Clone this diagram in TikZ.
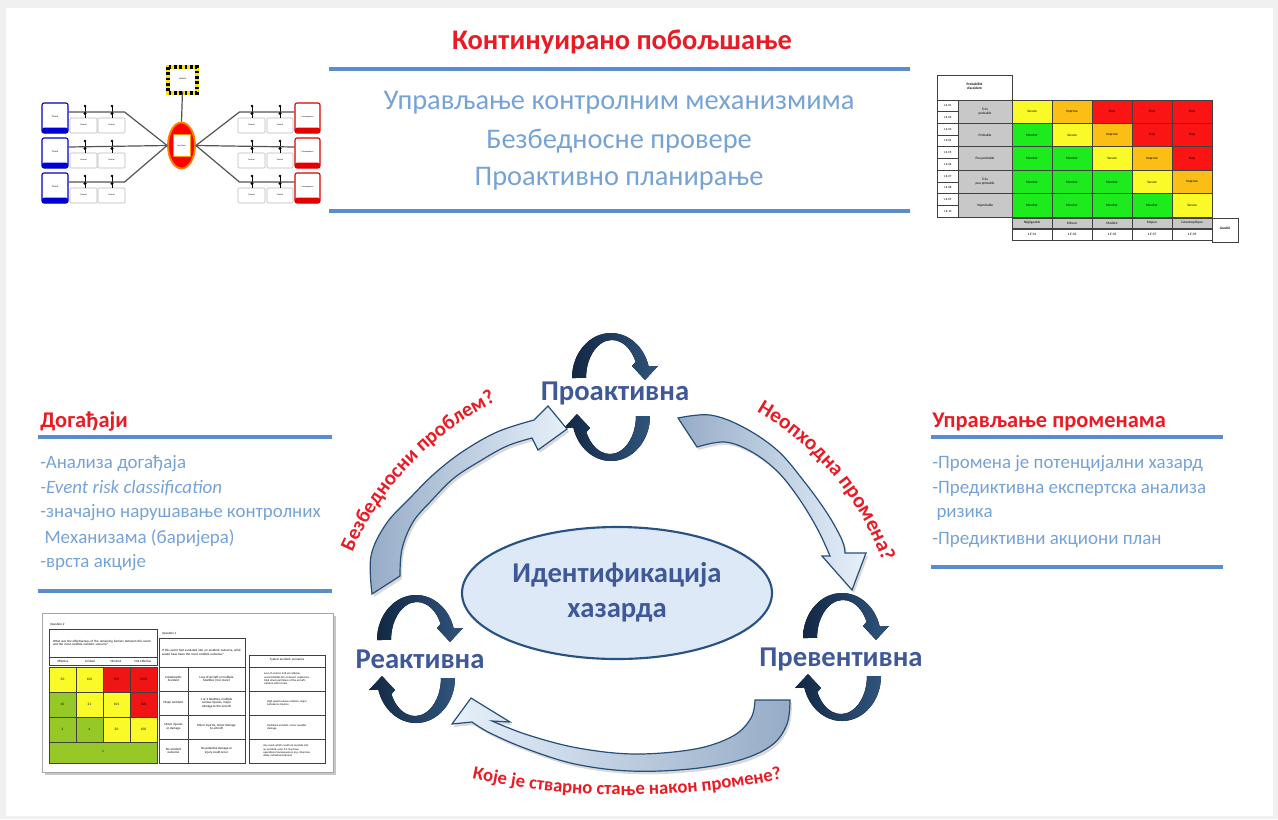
\documentclass[tikz,border=0pt]{standalone}
\usepackage{fontspec}
\setmainfont{Carlito}
\usetikzlibrary{shapes.geometric,decorations.text,fit}
\definecolor{titlered}{RGB}{232,28,36}
\definecolor{lblue}{RGB}{118,163,214}
\definecolor{rule}{RGB}{88,142,204}
\definecolor{lab}{RGB}{62,88,152}
\definecolor{navy}{RGB}{18,40,68}
\definecolor{navyB}{RGB}{48,84,124}
\definecolor{arrline}{RGB}{38,78,122}
\definecolor{arrlight}{RGB}{230,240,250}
\definecolor{arrdark}{RGB}{150,172,198}
\definecolor{ellfill}{RGB}{221,233,246}
\definecolor{ellline}{RGB}{40,82,132}
\definecolor{mR}{RGB}{250,20,20}
\definecolor{mO}{RGB}{250,190,20}
\definecolor{mY}{RGB}{250,250,40}
\definecolor{mG}{RGB}{30,235,30}
\definecolor{eG}{RGB}{150,200,40}
\definecolor{eY}{RGB}{250,250,40}
\definecolor{eR}{RGB}{240,20,20}
\definecolor{cgrey}{RGB}{200,200,200}
\newcommand\bigArrowL[1]{\path[#1] plot[smooth,tension=0.6] coordinates {(372,594) (371,556) (386,524) (410,498) (434,474) (462,452) (497,432) (534,420)} -- (548,406) -- (567,429) -- (538,450) -- plot[smooth,tension=0.6] coordinates {(532,438) (507,446) (480,461) (454,478) (432,500) (413,522) (402,549) (400,576)} -- cycle;}
\newcommand\bigArrowR[1]{\path[#1] plot[smooth,tension=0.6] coordinates {(678,418) (710,415) (743,427) (777,450) (803,480) (827,513) (842,540) (845,553)} -- (866,553) -- (852,590) -- (822,556) -- plot[smooth,tension=0.6] coordinates {(830,556) (818,530) (800,500) (778,472) (752,452) (725,442) (697,447)} -- cycle;}
\newcommand\bigArrowB[1]{\path[#1] plot[smooth,tension=0.6] coordinates {(790,700) (787,724) (772,745) (740,760) (690,769) (630,771) (575,764) (527,749) (490,733) (472,722)} -- (452,724) -- (471,698) -- (510,722) -- plot[smooth,tension=0.6] coordinates {(492,721) (528,735) (578,748) (635,754) (695,749) (733,736) (751,718) (755,700)} -- cycle;}
\tikzset{
  halfloop/.pic={\fill[left color=navy,right color=navyB] (-39,-19) arc[start angle=-180,end angle=-15,x radius=39,y radius=45] -- (47,-31) -- (34,-17) -- (21,-31) -- (24.6,-35.1) arc[start angle=-25,end angle=-180,x radius=26,y radius=38] -- cycle;},
  rulel/.style={draw=rule, line width=3pt},
  toptxt/.style={text=lblue, font=\fontsize{21.3}{25}\selectfont},
  headtxt/.style={text=titlered, font=\bfseries\fontsize{16.8}{19}\selectfont, anchor=west, inner sep=0pt},
  bullet/.style={text=lblue, font=\fontsize{14.2}{17}\selectfont, anchor=west, inner sep=0pt},
  cyc/.style={text=lab, font=\bfseries\fontsize{21.5}{25}\selectfont},
  lbl/.style={decorate, decoration={text along path, text align=center, text={#1}}},
  btctl/.style={draw=gray!55, fill=white, rounded corners=0.8pt, line width=0.4pt, inner sep=0pt, font=\fontsize{1.6}{2}\selectfont},
  btthreat/.style={draw=blue!75!black, fill=white, rounded corners=1.5pt, line width=0.8pt, inner sep=0pt, font=\fontsize{1.8}{2}\selectfont,
    path picture={\fill[blue!85!black] ([yshift=4pt]path picture bounding box.south west) rectangle (path picture bounding box.south east);}},
  btcons/.style={draw=red!85!black, fill=white, rounded corners=1.5pt, line width=0.8pt, inner sep=0pt, font=\fontsize{1.6}{2}\selectfont,
    path picture={\fill[red!90!black] ([yshift=4pt]path picture bounding box.south west) rectangle (path picture bounding box.south east);}},
  btline/.style={draw=gray!65!black, line width=0.9pt},
  tiny/.style={font=\fontsize{2.4}{2.8}\selectfont, inner sep=0pt, align=center},
  tbl/.style={draw=black!75, line width=0.5pt},
}
\begin{document}
\begin{tikzpicture}[x=0.75pt,y=-0.75pt]
\useasboundingbox (0,0) rectangle (1278,819);
\fill[gray!12] (0,0) rectangle (1278,819);
\fill[white] (6,8) rectangle (1273,816);

% ---------- title and top text ----------
\node[text=titlered, font=\bfseries\fontsize{21.3}{25}\selectfont] (title) at (622,42) {Континуирано побољшање};
\draw[rulel] (329,69) -- (910,69);
\draw[rulel] (329,211) -- (910,211);
\node[toptxt] (t1) at (619,103) {Управљање контролним механизмима};
\node[toptxt] (t2) at (619,141) {Безбедносне провере};
\node[toptxt] (t3) at (619,179) {Проактивно планирање};

% ---------- bow-tie thumbnail ----------
\draw[yellow!85!orange, line width=2.6pt] (168,67) rectangle (197,93);
\draw[black, line width=2.6pt, dash pattern=on 2pt off 2pt] (168,67) rectangle (197,93);
\node[fill=white, fit={(170,69)(195,91)}, inner sep=0pt, font=\fontsize{1.8}{2}\selectfont] (hzd) {Hazard};
\node[ellipse, fill=red, draw=orange, line width=1.4pt, minimum width=27*0.75pt, minimum height=46*0.75pt, inner sep=0pt] (te) at (181.5,145.5) {};
\node[fill=white, draw=orange!80!yellow, line width=0.6pt, minimum width=17*0.75pt, minimum height=22*0.75pt, inner sep=0pt, font=\fontsize{1.6}{2}\selectfont] (tein) at (181.5,145.5) {Top Event};
\draw[btline] (hzd.south) -- (te.north);
\foreach \r/\dy in {1/0,2/35,3/70}{
  \node[btthreat, fit={(42,{103+\dy})(68,{133+\dy})}] (th\r) {Threat};
  \node[btcons, fit={(295,{103+\dy})(320,{133+\dy})}] (co\r) {Consequence};
  \node[btctl, fit={(70,{118+\dy})(97,{133+\dy})}] (cla\r) {Control};
  \node[btctl, fit={(98,{118+\dy})(125,{133+\dy})}] (clb\r) {Control};
  \node[btctl, fit={(238,{118+\dy})(265,{133+\dy})}] (cra\r) {Control};
  \node[btctl, fit={(267,{118+\dy})(293,{133+\dy})}] (crb\r) {Control};
  \foreach \xx in {85,112,252,280}{
    \draw[black, line width=0.5pt] (\xx,{106+\dy}) -- (\xx,{118+\dy});
    \fill[black] (\xx,{106+\dy}) circle (1.3);
  }
}
\draw[btline] ([yshift=4.5pt]th1.east) -- ++(56,0) -- (te.west);
\draw[btline] ([yshift=4.5pt]th2.east) -- (te.west);
\draw[btline] ([yshift=4.5pt]th3.east) -- ++(56,0) -- (te.west);
\draw[btline] ([yshift=4.5pt]co1.west) -- ++(-55,0) -- (te.east);
\draw[btline] ([yshift=4.5pt]co2.west) -- (te.east);
\draw[btline] ([yshift=4.5pt]co3.west) -- ++(-55,0) -- (te.east);
\foreach \xx in {85,112,252,280}{\foreach \dy in {0,35,70}{\fill[black] (\xx,{113.5+\dy}) circle (1.6);}}

% ---------- risk matrix thumbnail ----------
\node[tbl, fill=white, fit={(937,75)(1012,100)}, inner sep=0pt, tiny, font=\bfseries\fontsize{2.6}{3}\selectfont] (rmh) {Probabilité\\d'accident};
\foreach \i in {0,...,9}{
  \pgfmathtruncatemacro\n{\i+1}
  \node[tbl, fill=white, minimum width=21*0.75pt, minimum height=11.7*0.75pt, inner sep=0pt, font=\fontsize{2.3}{2.6}\selectfont] (rc\i) at (947.5,{105.85+11.7*\i}) {1.E-\ifnum\n<10 0\fi\n};
}
\foreach \r/\t in {0/{Très\\probable},1/{Probable},2/{Peu probable},3/{Très\\peu probable},4/{Improbable}}{
  \node[tbl, fill=cgrey, minimum width=54*0.75pt, minimum height=23.4*0.75pt, inner sep=0pt, tiny, font=\fontsize{2.6}{3}\selectfont] (rl\r) at (985,{111.7+23.4*\r}) {\t};
}
\foreach \r in {0,...,4}{\foreach \c in {0,...,4}{
  \pgfmathtruncatemacro\d{\c-\r}
  \ifnum\d<0 \def\k{mG}\def\t{Monitor}\else\ifnum\d=0 \def\k{mY}\def\t{Secure}\else\ifnum\d=1 \def\k{mO}\def\t{Improve}\else\def\k{mR}\def\t{Stop}\fi\fi\fi
  \node[tbl, fill=\k, minimum width=40*0.75pt, minimum height=23.4*0.75pt, inner sep=0pt, font=\fontsize{2.6}{3}\selectfont] (m\r\c) at ({1032+40*\c},{111.7+23.4*\r}) {\t};
}}
\foreach \c/\t/\v in {0/Négligeable/01,1/Mineur/03,2/Modéré/05,3/Majeur/07,4/Catastrophique/09}{
  \node[tbl, fill=cgrey, minimum width=40*0.75pt, minimum height=10*0.75pt, inner sep=0pt, font=\fontsize{2.6}{3}\selectfont] (gs\c) at ({1032+40*\c},223) {\t};
  \node[tbl, fill=white, minimum width=40*0.75pt, minimum height=11*0.75pt, inner sep=0pt, font=\fontsize{2.6}{3}\selectfont] (gv\c) at ({1032+40*\c},234.5) {1.E-\v};
}
\node[tbl, fill=white, fit={(1212,218)(1238,242)}, inner sep=0pt, font=\bfseries\fontsize{2.6}{3}\selectfont] (grav) {Gravité};

% ---------- left text block ----------
\node[headtxt] (ev) at (40,422) {Догађаји};
\draw[rulel] (38,437) -- (332,437);
\node[bullet] (b1) at (40,464) {-Анализа догађаја};
\node[bullet] (b2) at (40,488) {\itshape -Event risk classification};
\node[bullet] (b3) at (40,513) {-значајно нарушавање контролних};
\node[bullet] (b4) at (40,538) {\ Механизама (баријера)};
\node[bullet] (b5) at (40,563) {-врста акције};
\draw[rulel] (38,591) -- (332,591);

% ---------- right text block ----------
\node[headtxt] (chg) at (932,422) {Управљање променама};
\draw[rulel] (931,437) -- (1223,437);
\node[bullet] (r1) at (932,464) {-Промена је потенцијални хазард};
\node[bullet] (r2) at (932,489) {-Предиктивна експертска анализа};
\node[bullet] (r3) at (932,514) {\ ризика};
\node[bullet] (r4) at (932,540) {-Предиктивни акциони план};
\draw[rulel] (931,567) -- (1223,567);

% ---------- ERC thumbnail ----------
\fill[black!22] (45,616) rectangle (336,775);
\draw[draw=black!35, fill=white] (42,613) rectangle (333,772);
\node[tiny, anchor=west] (q2l) at (50,625) {Question 2};
\node[tbl, fit={(49,629)(157,657)}, inner sep=0pt] (q2) {};
\node[tiny, text width=100*0.75pt, align=left] (q2t) at (q2) {What was the effectiveness of the remaining barriers between this event and the most credible accident scenario?};
\node[tbl, fit={(49,657)(157,665)}, inner sep=0pt] (q2h) {};
\foreach \xx/\t in {63/Effective,90/Limited,116/Minimal,143/Not effective}{\node[tiny] (h\xx) at (\xx,661) {\t};}
\foreach \r/\c/\k/\v in {0/0/eY/50,0/1/eY/102,0/2/eR/502,0/3/eR/2500,1/0/eG/10,1/1/eY/21,1/2/eY/101,1/3/eR/500,2/0/eG/2,2/1/eG/4,2/2/eY/20,2/3/eY/100}{
  \node[tbl, fill=\k, minimum width=27*0.75pt, minimum height=25*0.75pt, inner sep=0pt, font=\fontsize{2.6}{3}\selectfont] (e\r\c) at ({62.5+27*\c},{679.5+25*\r}) {\v};
}
\node[tbl, fill=eG, fit={(49,742)(157,763)}, inner sep=0pt, font=\fontsize{2.6}{3}\selectfont] (e30) {1};
\node[tiny, anchor=west] (q1l) at (162,634) {Question 1};
\node[tbl, fit={(159,638)(245,667)}, inner sep=0pt] (q1) {};
\node[tiny, text width=80*0.75pt, align=left] (q1t) at (q1) {If this event had escalated into an accident outcome, what would have been the most credible outcome?};
\foreach \r/\a/\b in {0/{Catastrophic\\Accident}/{Loss of aircraft or multiple\\fatalities (3 or more)},1/{Major Accident}/{1 or 2 fatalities, multiple\\serious injuries, major\\damage to the aircraft},2/{Minor injuries\\or damage}/{Minor injuries, minor damage\\to aircraft},3/{No accident\\outcome}/{No potential damage or\\injury could occur}}{
  \node[tbl, minimum width=29*0.75pt, minimum height=24*0.75pt, inner sep=0pt, tiny] (oa\r) at (173.5,{679+24*\r}) {\a};
  \node[tbl, minimum width=57*0.75pt, minimum height=24*0.75pt, inner sep=0pt, tiny] (ob\r) at (216.5,{679+24*\r}) {\b};
}
\node[tbl, fit={(249,655)(325,667)}, inner sep=0pt, tiny] (ts) {Typical accident scenarios};
\foreach \r/\t in {0/{Loss of control, mid-air collision,\\uncontrollable fire on board, explosions,\\total structural failure of the aircraft,\\collision with terrain},1/{High speed runway collision, major\\turbulence injuries},2/{Pushback accident, minor weather\\damage},3/{Any event which could not escalate into\\an accident, even if it may have\\operational consequences (e.g. diversion,\\delay, individual sickness)}}{
  \node[tbl, minimum width=76*0.75pt, minimum height=24*0.75pt, inner sep=0pt, font=\fontsize{2.1}{2.5}\selectfont, align=left] (ts\r) at (287,{679+24*\r}) {\t};
}

% ---------- central cycle ----------
\node[ellipse, draw=ellline, line width=1.6pt, fill=ellfill, minimum width=310*0.75pt, minimum height=132*0.75pt] (hz) at (617,593) {};
\node[cyc] (hz1) at (617,575) {Идентификација};
\node[cyc] (hz2) at (617,613) {хазарда};

\node[cyc] (pro) at (615,393) {Проактивна};
\node[cyc] (rea) at (420,659) {Реактивна};
\node[cyc] (pre) at (841,659) {Превентивна};

\pic at (611,397) {halfloop};
\pic[rotate=180] at (611,397) {halfloop};
\pic at (416,659) {halfloop};
\pic[rotate=180] at (416,659) {halfloop};
\pic at (842,657) {halfloop};
\pic[rotate=180] at (842,657) {halfloop};

\bigArrowL{fill=black, opacity=0.15, shift={(2,3)}}
\bigArrowR{fill=black, opacity=0.15, shift={(2,3)}}
\bigArrowB{fill=black, opacity=0.15, shift={(2,3)}}
\bigArrowL{draw=arrline, line width=0.9pt, left color=arrdark, right color=arrlight}
\bigArrowR{draw=arrline, line width=0.9pt, left color=arrdark, right color=arrlight}
\bigArrowB{draw=arrline, line width=0.9pt, left color=arrlight, right color=arrdark}

\path[lbl={|\bfseries\fontsize{15.5}{18}\selectfont\color{titlered}|Безбедносни проблем?}] (631,674) ++(-166.4:304) arc[start angle=-166.4, end angle=-106.4, radius=304];
\path[lbl={|\bfseries\fontsize{16}{18}\selectfont\color{titlered}|Неопходна промена?}] (617,657) ++(-75:282) arc[start angle=-75, end angle=-5, radius=282];
\path[lbl={|\bfseries\fontsize{14}{16}\selectfont\color{titlered}|Које је стварно стање након промене?}] (627,45) ++(110:750) arc[start angle=110, end angle=70, radius=750];
\end{tikzpicture}
\end{document}
